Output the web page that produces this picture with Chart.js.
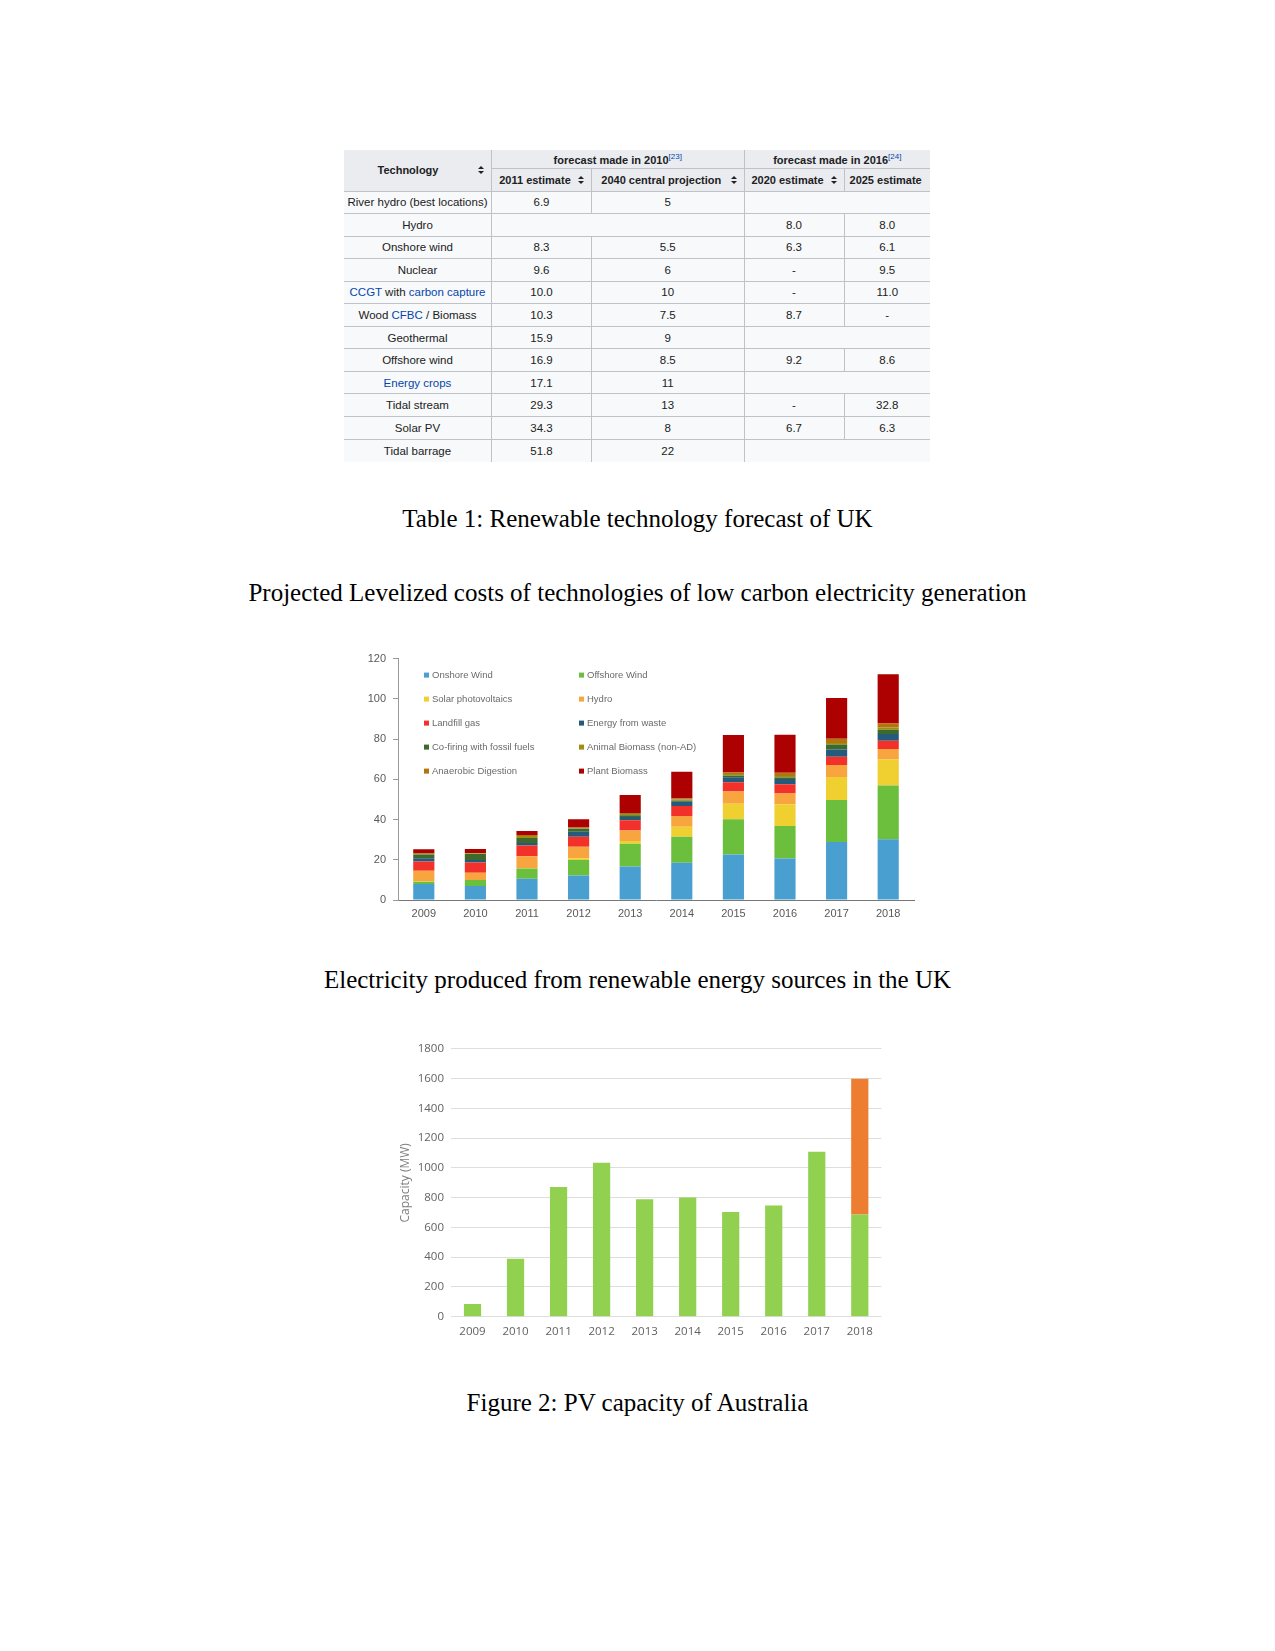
<!DOCTYPE html>
<html>
<head>
<meta charset="utf-8">
<script src="https://cdn.jsdelivr.net/npm/chart.js@4.4.0/dist/chart.umd.min.js"></script>
<style>
  html, body { margin: 0; padding: 0; background: #fff; }
  #page { position: relative; width: 1275px; height: 1651px; background: #fff; overflow: hidden; }
  .cap { position: absolute; left: 0; width: 1275px; text-align: center; font-family: "Liberation Serif", "Times New Roman", serif; font-size: 25px; line-height: 30px; color: #000; }
  #tbl { position: absolute; left: 344px; top: 150px; border-collapse: collapse; table-layout: fixed; width: 586px;
         font-family: "Liberation Sans", Arial, sans-serif; font-size: 11.5px; color: #202122; }
  #tbl th, #tbl td { border: 1px solid #bfc3c8; padding: 0 3px; text-align: center; white-space: nowrap; overflow: hidden; }
  #tbl th { background: #eaecf0; font-weight: bold; font-size: 11px; position: relative; }
  #tbl td { background: #f8f9fa; }
  #tbl .nl { border-left: none; }
  #tbl .nr { border-right: none; }
  #tbl tr.top > * { border-top: none; }
  #tbl tr.last > * { border-bottom: none; }
  #tbl th.s { padding-right: 16px; }
  #tbl th.s0 { padding-right: 22px; }
  .sort { position: absolute; right: 6px; top: 50%; width: 7px; height: 8px; margin-top: -4px; }
  .sort:before, .sort:after { content: ""; position: absolute; left: 0; border-left: 3.5px solid transparent; border-right: 3.5px solid transparent; }
  .sort:before { top: 0; border-bottom: 3.5px solid #202122; }
  .sort:after { bottom: 0; border-top: 3.5px solid #202122; }
  a { color: #0645ad; text-decoration: none; }
  sup { font-size: 8px; font-weight: normal; color: #0645ad; vertical-align: 5px; }
  .cv { position: absolute; }
</style>
</head>
<body>
<div id="page">
  <table id="tbl">
    <colgroup>
      <col style="width:147.5px"><col style="width:100px"><col style="width:152.5px"><col style="width:100px"><col style="width:86px">
    </colgroup>
    <thead>
      <tr class="top" style="height:18px">
        <th rowspan="2" class="nl s0">Technology<span class="sort"></span></th>
        <th colspan="2">forecast made in 2010<sup>[23]</sup></th>
        <th colspan="2" class="nr">forecast made in 2016<sup>[24]</sup></th>
      </tr>
      <tr style="height:23px">
        <th class="s">2011 estimate<span class="sort"></span></th>
        <th class="s">2040 central projection<span class="sort"></span></th>
        <th class="s">2020 estimate<span class="sort"></span></th>
        <th class="nr" style="text-align:left;padding-left:5px">2025 estimate</th>
      </tr>
    </thead>
    <tbody id="tbody"></tbody>
  </table>

  <div class="cap" style="top:504px">Table 1: Renewable technology forecast of UK</div>
  <div class="cap" style="top:578px">Projected Levelized costs of technologies of low carbon electricity generation</div>

  <div class="cv" style="left:360px; top:645px; width:560px; height:290px;"><canvas id="ukChart"></canvas></div>

  <div class="cap" style="top:965px">Electricity produced from renewable energy sources in the UK</div>

  <div class="cv" style="left:390px; top:1035px; width:500px; height:315px;"><canvas id="pvChart"></canvas></div>

  <div class="cap" style="top:1388px">Figure 2: PV capacity of Australia</div>
</div>

<script>
// ---- table 1 data ----
const techNames = ["River hydro (best locations)", "Hydro", "Onshore wind", "Nuclear", "CCGT with carbon capture",
  "Wood CFBC / Biomass", "Geothermal", "Offshore wind", "Energy crops", "Tidal stream", "Solar PV", "Tidal barrage"];
const est2011 = ["6.9", null, "8.3", "9.6", "10.0", "10.3", "15.9", "16.9", "17.1", "29.3", "34.3", "51.8"];
const proj2040 = ["5", null, "5.5", "6", "10", "7.5", "9", "8.5", "11", "13", "8", "22"];
const est2020 = [null, "8.0", "6.3", "-", "-", "8.7", null, "9.2", null, "-", "6.7", null];
const est2025 = [null, "8.0", "6.1", "9.5", "11.0", "-", null, "8.6", null, "32.8", "6.3", null];
const techLinks = {
  "CCGT with carbon capture": '<a>CCGT</a> with <a>carbon capture</a>',
  "Wood CFBC / Biomass": 'Wood <a>CFBC</a> / Biomass',
  "Energy crops": '<a>Energy crops</a>'
};

// ---- chart 1 data (TWh) ----
const ukYears = ["2009", "2010", "2011", "2012", "2013", "2014", "2015", "2016", "2017", "2018"];
const onshoreWind = [7.9, 6.9, 10.6, 12.2, 16.7, 18.5, 22.6, 20.6, 28.8, 30.2];
const offshoreWind = [1.2, 3.0, 5.1, 7.7, 11.3, 12.9, 17.5, 16.2, 20.9, 26.7];
const solarPV = [0.2, 0.1, 0.2, 0.8, 1.3, 5.0, 7.7, 10.8, 11.5, 12.9];
const hydro = [5.3, 3.6, 5.8, 5.8, 5.3, 5.3, 6.1, 5.3, 5.9, 5.3];
const landfillGas = [4.6, 5.1, 5.4, 4.9, 5.1, 5.0, 4.6, 4.6, 4.1, 4.1];
const energyFromWaste = [1.6, 1.2, 1.2, 2.5, 1.6, 2.1, 2.5, 2.6, 3.6, 3.3];
const coFiring = [1.8, 3.0, 2.5, 1.5, 0.8, 0.5, 0.8, 0.8, 2.5, 2.1];
const animalBiomass = [0.3, 0.2, 1.0, 0.3, 0.6, 0.7, 0.8, 0.8, 0.8, 1.2];
const anaerobicDigestion = [0.3, 0.3, 0.5, 0.4, 0.5, 0.5, 0.8, 1.5, 2.0, 2.0];
const plantBiomass = [2.0, 2.0, 2.0, 4.1, 9.0, 13.2, 18.6, 19.0, 20.3, 24.4];
const ukTicks = [0, 20, 40, 60, 80, 100, 120];

// ---- chart 2 data (MW) ----
const pvYears = ["2009", "2010", "2011", "2012", "2013", "2014", "2015", "2016", "2017", "2018"];
const pvInstalled = [85, 389, 872, 1035, 789, 801, 704, 747, 1109, 687];
const pvExtra = [null, null, null, null, null, null, null, null, null, 913];
const pvTicks = [0, 200, 400, 600, 800, 1000, 1200, 1400, 1600, 1800];

function buildTable() {
  const tbody = document.getElementById("tbody");
  techNames.forEach((name, i) => {
    const tr = document.createElement("tr");
    tr.style.height = "22.55px";
    if (i === techNames.length - 1) tr.className = "last";
    let html = `<td class="nl">${techLinks[name] || name}</td>`;
    if (est2011[i] === null && proj2040[i] === null) html += `<td colspan="2"></td>`;
    else html += `<td>${est2011[i]}</td><td>${proj2040[i]}</td>`;
    if (est2020[i] === null && est2025[i] === null) html += `<td colspan="2" class="nr"></td>`;
    else html += `<td>${est2020[i]}</td><td class="nr">${est2025[i]}</td>`;
    tr.innerHTML = html;
    tbody.appendChild(tr);
  });
}
buildTable();

Chart.defaults.animation = false;
Chart.defaults.responsive = true;
Chart.defaults.maintainAspectRatio = false;

const ukColors = ["#4a9fd1", "#6cbf3c", "#f0d030", "#f8a540", "#f2322a", "#245a7c", "#3d6a2a", "#a08e12", "#b3740c", "#ad0000"];
const ukLabels = ["Onshore Wind", "Offshore Wind", "Solar photovoltaics", "Hydro", "Landfill gas", "Energy from waste",
  "Co-firing with fossil fuels", "Animal Biomass (non-AD)", "Anaerobic Digestion", "Plant Biomass"];
const ukSeries = [onshoreWind, offshoreWind, solarPV, hydro, landfillGas, energyFromWaste, coFiring, animalBiomass, anaerobicDigestion, plantBiomass];

// legend laid out as a two-column grid inside the plot
const gridLegend = {
  id: "gridLegend",
  afterDraw(chart) {
    const ctx = chart.ctx;
    const area = chart.chartArea;
    ctx.save();
    ctx.font = '9.5px "Liberation Sans", Arial, sans-serif';
    ctx.textBaseline = "middle";
    chart.data.datasets.forEach((ds, i) => {
      const x = area.left + 26 + (i % 2) * 155;
      const y = area.top + 16.5 + Math.floor(i / 2) * 24;
      ctx.fillStyle = ds.backgroundColor;
      ctx.fillRect(x, y - 2.5, 5, 5);
      ctx.fillStyle = "#6a6a6a";
      ctx.fillText(ds.label, x + 8, y);
    });
    ctx.restore();
  }
};

new Chart(document.getElementById("ukChart"), {
  type: "bar",
  data: {
    labels: ukYears,
    datasets: ukSeries.map((s, i) => ({
      label: ukLabels[i], data: s, backgroundColor: ukColors[i],
      categoryPercentage: 1, barPercentage: 0.41
    }))
  },
  options: {
    layout: { padding: { top: 12.7, right: 6, left: 0, bottom: 0 } },
    plugins: { legend: { display: false }, tooltip: { enabled: false } },
    scales: {
      x: {
        stacked: true,
        grid: { display: false, drawTicks: false },
        border: { display: true, color: "#777" },
        ticks: { color: "#595959", padding: 7, font: { family: '"Liberation Sans", Arial', size: 11 } },
        afterFit(scale) { scale.height = 35; }
      },
      y: {
        stacked: true, min: 0, max: 120,
        afterBuildTicks(scale) { scale.ticks = ukTicks.map(v => ({ value: v })); },
        grid: { drawOnChartArea: false, drawTicks: true, tickLength: 5, color: "#999" },
        border: { display: true, color: "#999" },
        ticks: { color: "#595959", padding: 7, font: { family: '"Liberation Sans", Arial', size: 11 } },
        afterFit(scale) { scale.width = 38; }
      }
    }
  },
  plugins: [gridLegend]
});

new Chart(document.getElementById("pvChart"), {
  type: "bar",
  data: {
    labels: pvYears,
    datasets: [
      { label: "Installed", data: pvInstalled, backgroundColor: "#92d050", categoryPercentage: 1, barPercentage: 0.4 },
      { label: "Extra", data: pvExtra, backgroundColor: "#ed7d31", categoryPercentage: 1, barPercentage: 0.4 }
    ]
  },
  options: {
    layout: { padding: { top: 13.3, right: 8.7, left: 0, bottom: 0 } },
    plugins: { legend: { display: false }, tooltip: { enabled: false } },
    scales: {
      x: {
        stacked: true,
        grid: { display: false, drawTicks: false },
        border: { display: false },
        ticks: { color: "#626262", padding: 8, font: { family: '"Open Sans"', size: 11.5 } },
        afterFit(scale) { scale.height = 33.3; }
      },
      y: {
        stacked: true, min: 0, max: 1800,
        afterBuildTicks(scale) { scale.ticks = pvTicks.map(v => ({ value: v })); },
        grid: { color: "#dedede", drawTicks: false },
        border: { display: false },
        ticks: { color: "#626262", padding: 7, font: { family: '"Open Sans"', size: 11.5 }, callback: v => String(v) },
        title: { display: true, text: "Capacity (MW)", color: "#7f7f7f", padding: { top: 8, bottom: 0 }, font: { family: '"Open Sans"', size: 12 } },
        afterFit(scale) { scale.width = 61; }
      }
    }
  }
});
</script>
</body>
</html>
